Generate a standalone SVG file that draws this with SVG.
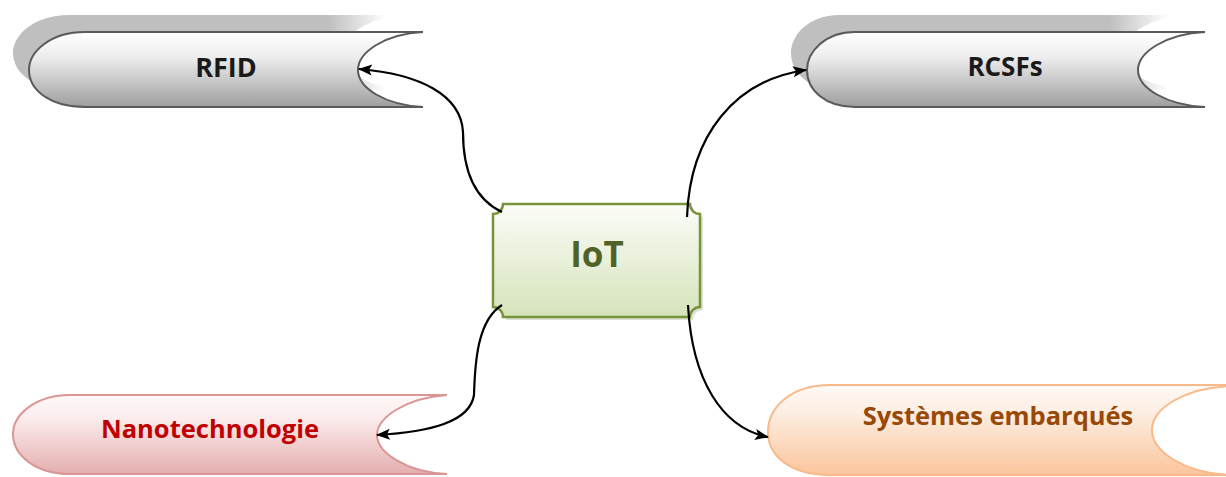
<svg xmlns="http://www.w3.org/2000/svg" width="1226" height="477" viewBox="0 0 1226 477">
<defs>
<linearGradient id="gGray" x1="0" y1="0" x2="0" y2="1"><stop offset="0" stop-color="#ffffff"/><stop offset="0.35" stop-color="#ececec"/><stop offset="1" stop-color="#9e9e9e"/></linearGradient>
<linearGradient id="gShadow" x1="0" y1="0" x2="1" y2="0"><stop offset="0" stop-color="#bfbfbf"/><stop offset="0.8" stop-color="#bfbfbf"/><stop offset="0.95" stop-color="#bfbfbf" stop-opacity="0"/></linearGradient>
<linearGradient id="gPink" x1="0" y1="0" x2="0" y2="1"><stop offset="0" stop-color="#fff8f8"/><stop offset="0.3" stop-color="#fbecec"/><stop offset="1" stop-color="#e4aeae"/></linearGradient>
<linearGradient id="gPeach" x1="0" y1="0" x2="0" y2="1"><stop offset="0" stop-color="#fffaf6"/><stop offset="0.3" stop-color="#fdeee2"/><stop offset="1" stop-color="#fbc59b"/></linearGradient>
<linearGradient id="gGreen" x1="0" y1="0" x2="0" y2="1"><stop offset="0" stop-color="#fcfdf8"/><stop offset="1" stop-color="#d5e3ba"/></linearGradient>
<marker id="arr" viewBox="0 0 14 11" refX="13" refY="5.5" markerWidth="14" markerHeight="11" markerUnits="userSpaceOnUse" orient="auto" overflow="visible"><path d="M0 0 L14 5.5 L0 11 L3 5.5 Z" fill="#000"/></marker>
<style>
.lbl{font-family:"Open Sans","Liberation Sans",sans-serif;font-weight:bold;text-anchor:middle}
.gray{fill:url(#gGray);stroke:#5a5a5a;stroke-width:2}
.shadow{fill:url(#gShadow);stroke:none}
.conn{fill:none;stroke:#000;stroke-width:2.2;marker-end:url(#arr)}
</style>
</defs>
<g id="rfid">
<path class="shadow" transform="translate(-16,-17)" d="M423 32 H85 C50 32 29 52 29 70 C29 90 50 107 85 107 H423 C385 105 358 88 358 70 C358 52 385 34 423 32 Z"/>
<path class="gray" d="M423 32 H85 C50 32 29 52 29 70 C29 90 50 107 85 107 H423 C385 105 358 88 358 70 C358 52 385 34 423 32 Z"/>
<text class="lbl" x="226" y="77" font-size="27" fill="#1a1a1a">RFID</text>
</g>
<g id="rcsfs">
<path class="shadow" transform="translate(-16,-17)" d="M1205 32 H855 C825 32 807 52 807 70 C807 90 825 107 855 107 H1205 C1166 105 1138 88 1138 70 C1138 52 1166 34 1205 32 Z"/>
<path class="gray" d="M1205 32 H855 C825 32 807 52 807 70 C807 90 825 107 855 107 H1205 C1166 105 1138 88 1138 70 C1138 52 1166 34 1205 32 Z"/>
<text class="lbl" x="1005" y="76" font-size="26" fill="#1a1a1a">RCSFs</text>
</g>
<g id="iot">
<path transform="translate(3,3)" fill="#c9cfbf" opacity="0.6" d="M503 204 H690 A10 10 0 0 0 700 214 V307 A10 10 0 0 0 690 317 H503 A10 10 0 0 0 493 307 V214 A10 10 0 0 0 503 204 Z"/>
<path fill="url(#gGreen)" stroke="#77933c" stroke-width="2.5" d="M503 204 H690 A10 10 0 0 0 700 214 V307 A10 10 0 0 0 690 317 H503 A10 10 0 0 0 493 307 V214 A10 10 0 0 0 503 204 Z"/>
<text class="lbl" x="597" y="267" font-size="35" fill="#4f6228">IoT</text>
</g>
<g id="nanotechnologie">
<path fill="url(#gPink)" stroke="#d99694" stroke-width="2" d="M447 395 H70 C35 395 13 415 13 434 C13 455 35 474 70 474 H447 C405 472 377 452 377 435 C377 418 405 398 447 395 Z"/>
<text class="lbl" x="210" y="438" font-size="25.5" fill="#c00000">Nanotechnologie</text>
</g>
<g id="systemes">
<path fill="url(#gPeach)" stroke="#f9b98a" stroke-width="2" d="M1230 385 H830 C790 385 768 408 768 432 C768 456 790 475 830 475 H1230 C1185 473 1152 452 1152 430 C1152 408 1185 388 1230 386 Z"/>
<text class="lbl" x="998" y="425" font-size="25.5" fill="#984807">Systèmes embarqués</text>
</g>
<g id="connectors">
<path class="conn" d="M502 212 C472 198 463 165 463 132 C461 95 420 74 359 69"/>
<path class="conn" d="M687 217 C690 135 735 80 806 70"/>
<path class="conn" d="M502 305 C478 320 475 360 474 395 C470 422 430 432 377 435"/>
<path class="conn" d="M688 305 C692 380 722 428 768 437"/>
</g>
</svg>
